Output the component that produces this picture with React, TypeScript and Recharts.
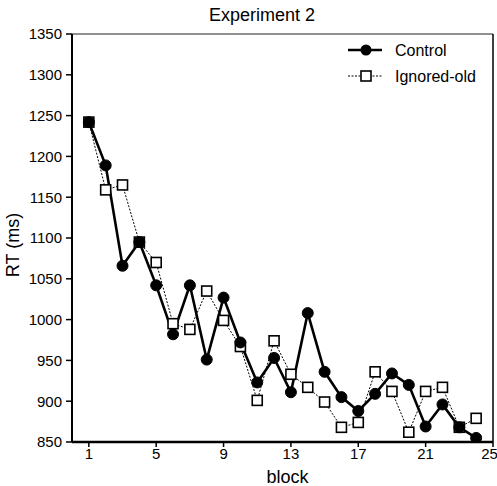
import { Legend, Line, LineChart, ReferenceLine, XAxis, YAxis } from "recharts";

const blocks = [1, 2, 3, 4, 5, 6, 7, 8, 9, 10, 11, 12, 13, 14, 15, 16, 17, 18, 19, 20, 21, 22, 23, 24];
const control = [1242, 1189, 1066, 1095, 1042, 982, 1042, 951, 1027, 972, 923, 953, 911, 1008, 936, 905, 888, 909, 934, 920, 869, 896, 868, 855];
const ignoredOld = [1242, 1159, 1165, 1095, 1070, 995, 988, 1035, 999, 967, 901, 974, 933, 917, 899, 868, 874, 936, 912, 862, 912, 917, 868, 879];
const xTicks = [1, 5, 9, 13, 17, 21, 25];
const yTicks = [850, 900, 950, 1000, 1050, 1100, 1150, 1200, 1250, 1300, 1350];

const data = blocks.map((b, i) => ({ block: b, control: control[i], ignored: ignoredOld[i] }));

const FONT = "'Liberation Sans', Arial, Helvetica, sans-serif";

const CircleDot = (p: any) => {
  if (p.cx == null || p.cy == null) return <g key={p.key} />;
  return <circle key={p.key} cx={p.cx} cy={p.cy} r={5.5} fill="#000" stroke="#000" />;
};

const SquareDot = (p: any) => {
  if (p.cx == null || p.cy == null) return <g key={p.key} />;
  return (
    <rect key={p.key} x={p.cx - 5} y={p.cy - 5} width={10} height={10} fill="#fff" stroke="#000" strokeWidth={1.6} />
  );
};

const LegendBox = () => (
  <svg width={150} height={55} style={{ fontFamily: FONT }}>
    <line x1={3} x2={37} y1={12} y2={12} stroke="#000" strokeWidth={2.5} />
    <circle cx={21} cy={12} r={5.5} fill="#000" />
    <text x={50} y={18} fontSize={16} fill="#000">Control</text>
    <line x1={3} x2={37} y1={38} y2={38} stroke="#000" strokeWidth={1} strokeDasharray="2 1.5" />
    <rect x={16} y={33} width={10} height={10} fill="#fff" stroke="#000" strokeWidth={1.6} />
    <text x={50} y={44} fontSize={16} fill="#000">Ignored-old</text>
  </svg>
);

const YLabel = (props: any) => {
  const vb = props.viewBox || { x: 0, y: 0, width: 0, height: 0 };
  const cx = 13;
  const cy = vb.y + vb.height / 2 + 7;
  return (
    <text x={cx} y={cy} transform={`rotate(-90, ${cx}, ${cy})`} textAnchor="middle" dominantBaseline="central" fontSize={18} fill="#000" fontFamily={FONT}>
      RT (ms)
    </text>
  );
};

export default function App() {
  return (
    <div style={{ position: "absolute", left: 0, top: 0, width: 497, height: 486, background: "#fff", fontFamily: FONT }}>
      <div style={{ position: "absolute", left: 262, top: 6, transform: "translateX(-50%)", fontSize: 18, lineHeight: "18px", whiteSpace: "nowrap", color: "#000" }}>
        Experiment 2
      </div>
      <LineChart width={497} height={486} data={data} margin={{ top: 34, right: 4, bottom: 2, left: 12 }}>
        <XAxis
          dataKey="block"
          type="number"
          domain={[0, 25]}
          ticks={xTicks}
          allowDataOverflow
          height={42}
          tickSize={5}
          tickMargin={1}
          axisLine={{ stroke: "#000", strokeWidth: 2.5 }}
          tickLine={{ stroke: "#000", strokeWidth: 1.5 }}
          tick={{ fill: "#000", fontSize: 15, fontFamily: FONT }}
          label={{ value: "block", position: "insideBottom", offset: 1, dx: 5, fontSize: 18, fill: "#000", fontFamily: FONT }}
        />
        <YAxis
          type="number"
          domain={[850, 1350]}
          ticks={yTicks}
          allowDataOverflow
          width={60}
          tickSize={6}
          tickMargin={4}
          axisLine={{ stroke: "#000", strokeWidth: 2 }}
          tickLine={{ stroke: "#000", strokeWidth: 1.5 }}
          tick={{ fill: "#000", fontSize: 15, fontFamily: FONT }}
          label={<YLabel />}
        />
        <ReferenceLine y={1350} stroke="#222" strokeWidth={1} />
        <ReferenceLine x={25} stroke="#000" strokeWidth={1.5} />
        <Legend
          layout="vertical"
          align="center"
          verticalAlign="middle"
          wrapperStyle={{ position: "absolute", left: 345, top: 38, width: 150 }}
          content={() => <LegendBox />}
        />
        <Line
          dataKey="ignored"
          name="Ignored-old"
          stroke="#000"
          strokeWidth={1}
          strokeDasharray="2 1.5"
          dot={SquareDot}
          isAnimationActive={false}
        />
        <Line
          dataKey="control"
          name="Control"
          stroke="#000"
          strokeWidth={2.6}
          dot={CircleDot}
          isAnimationActive={false}
        />
      </LineChart>
    </div>
  );
}
